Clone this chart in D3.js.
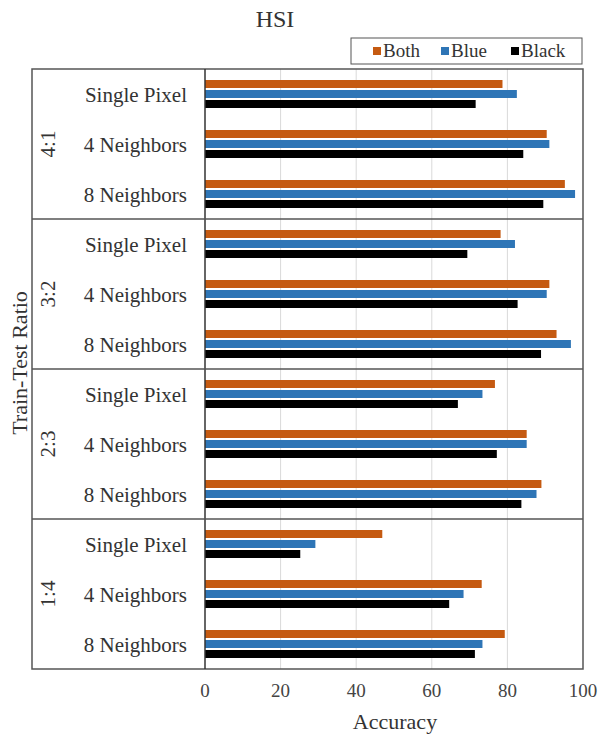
<!DOCTYPE html>
<html>
<head>
<meta charset="utf-8">
<script src="https://cdn.jsdelivr.net/npm/d3@7"></script>
<style>
  body { margin: 0; background: #fff; }
</style>
</head>
<body>
<div id="chart"></div>
<script>
// groups (train-test ratios), categories inside each group and the three series
var groups = ["4:1", "3:2", "2:3", "1:4"];
var categories = ["Single Pixel", "4 Neighbors", "8 Neighbors"];
var series = ["Both", "Blue", "Black"];
var colors = ["#c55a11", "#2e75b6", "#000000"];
var xTicks = [0, 20, 40, 60, 80, 100];

// values in order group by group, category by category
var both  = [78.7, 90.4, 95.2, 78.2, 91.1, 93.0, 76.7, 85.1, 89.0, 46.9, 73.2, 79.3];
var blue  = [82.5, 91.1, 97.9, 82.0, 90.4, 96.8, 73.4, 85.1, 87.7, 29.2, 68.4, 73.4];
var black = [71.6, 84.2, 89.5, 69.4, 82.7, 88.9, 66.9, 77.2, 83.7, 25.2, 64.6, 71.4];

var width = 601, height = 736;
var plot = {left: 205, right: 583, top: 69, bottom: 669};
var boxLeft = 32;
var serif = "'Liberation Serif', 'DejaVu Serif', serif";

var rows = [];
groups.forEach(function(g, gi) {
    categories.forEach(function(c, ci) {
        var i = gi * categories.length + ci;
        rows.push({key: g + "|" + c, group: g, cat: c, values: [both[i], blue[i], black[i]]});
    });
});

var svg = d3.select("#chart")
    .append("svg")
    .attr("width", width)
    .attr("height", height)
    .attr("font-family", serif)
    .style("font-family", serif);

var x = d3.scaleLinear()
    .domain([0, 100])
    .range([plot.left, plot.right]);

var y = d3.scaleBand()
    .domain(rows.map(function(d) { return d.key; }))
    .range([plot.top, plot.bottom]);

var yGroup = d3.scaleBand()
    .domain(groups)
    .range([plot.top, plot.bottom]);

var ySeries = d3.scaleBand()
    .domain(series)
    .range([0, y.bandwidth()])
    .paddingInner(0.2)
    .paddingOuter(1.1);

// gridlines
svg.append("g")
    .selectAll("line")
    .data(xTicks.slice(1, -1))
    .enter()
    .append("line")
    .attr("x1", function(d) { return x(d); })
    .attr("x2", function(d) { return x(d); })
    .attr("y1", plot.top)
    .attr("y2", plot.bottom)
    .style("stroke", "#d9d9d9")
    .style("stroke-width", 1);

// bars
var rowG = svg.append("g")
    .selectAll("g")
    .data(rows)
    .enter()
    .append("g")
    .attr("transform", function(d) { return `translate(0, ${y(d.key)})`; });

rowG.selectAll("rect")
    .data(function(d) { return d.values.map(function(v, i) { return {s: series[i], v: v, c: colors[i]}; }); })
    .enter()
    .append("rect")
    .attr("x", x(0))
    .attr("y", function(d) { return ySeries(d.s); })
    .attr("width", function(d) { return x(d.v) - x(0); })
    .attr("height", ySeries.bandwidth())
    .style("fill", function(d) { return d.c; });

// box around plot and label area, with group separators
svg.append("rect")
    .attr("x", boxLeft)
    .attr("y", plot.top)
    .attr("width", plot.right - boxLeft)
    .attr("height", plot.bottom - plot.top)
    .style("fill", "none")
    .style("stroke", "#555")
    .style("stroke-width", 1.5);

svg.append("line")
    .attr("x1", plot.left).attr("x2", plot.left)
    .attr("y1", plot.top).attr("y2", plot.bottom)
    .style("stroke", "#333")
    .style("stroke-width", 1.5);

svg.append("g")
    .selectAll("line")
    .data(groups.slice(1))
    .enter()
    .append("line")
    .attr("x1", boxLeft)
    .attr("x2", plot.right)
    .attr("y1", function(d) { return yGroup(d); })
    .attr("y2", function(d) { return yGroup(d); })
    .style("stroke", "#555")
    .style("stroke-width", 1.5);

// category labels
svg.append("g")
    .selectAll("text")
    .data(rows)
    .enter()
    .append("text")
    .attr("x", 187)
    .attr("y", function(d) { return y(d.key) + y.bandwidth() / 2 + 8; })
    .attr("text-anchor", "end")
    .style("font-size", "21px")
    .style("fill", "#333")
    .text(function(d) { return d.cat; });

// group labels (rotated)
svg.append("g")
    .selectAll("text")
    .data(groups)
    .enter()
    .append("text")
    .attr("transform", function(d) { return `translate(55, ${yGroup(d) + yGroup.bandwidth() / 2}) rotate(-90)`; })
    .attr("text-anchor", "middle")
    .style("font-size", "21px")
    .style("fill", "#333")
    .text(function(d) { return d; });

// x axis tick labels
svg.append("g")
    .selectAll("text")
    .data(xTicks)
    .enter()
    .append("text")
    .attr("x", function(d) { return x(d); })
    .attr("y", 697)
    .attr("text-anchor", "middle")
    .style("font-size", "19px")
    .style("fill", "#444")
    .text(function(d) { return d; });

svg.append("text")
    .attr("x", 395)
    .attr("y", 729)
    .attr("text-anchor", "middle")
    .style("font-size", "22px")
    .style("fill", "#333")
    .text("Accuracy");

svg.append("text")
    .attr("transform", `translate(27, 363) rotate(-90)`)
    .attr("text-anchor", "middle")
    .style("font-size", "22px")
    .style("fill", "#333")
    .text("Train-Test Ratio");

svg.append("text")
    .attr("x", 275)
    .attr("y", 27)
    .attr("text-anchor", "middle")
    .style("font-size", "24px")
    .style("fill", "#333")
    .text("HSI");

// legend
var legend = svg.append("g");
legend.append("rect")
    .attr("x", 351).attr("y", 38)
    .attr("width", 231).attr("height", 26)
    .style("fill", "#fff")
    .style("stroke", "#555")
    .style("stroke-width", 1);

var legendX = [373, 441, 511];
var item = legend.selectAll("g.item")
    .data(series)
    .enter()
    .append("g")
    .attr("class", "item")
    .attr("transform", function(d, i) { return `translate(${legendX[i]}, 51)`; });

item.append("rect")
    .attr("x", 0).attr("y", -4)
    .attr("width", 8).attr("height", 8)
    .style("fill", function(d, i) { return colors[i]; });

item.append("text")
    .attr("x", 10)
    .attr("y", 6)
    .style("font-size", "19px")
    .style("fill", "#333")
    .text(function(d) { return d; });
</script>
</body>
</html>
